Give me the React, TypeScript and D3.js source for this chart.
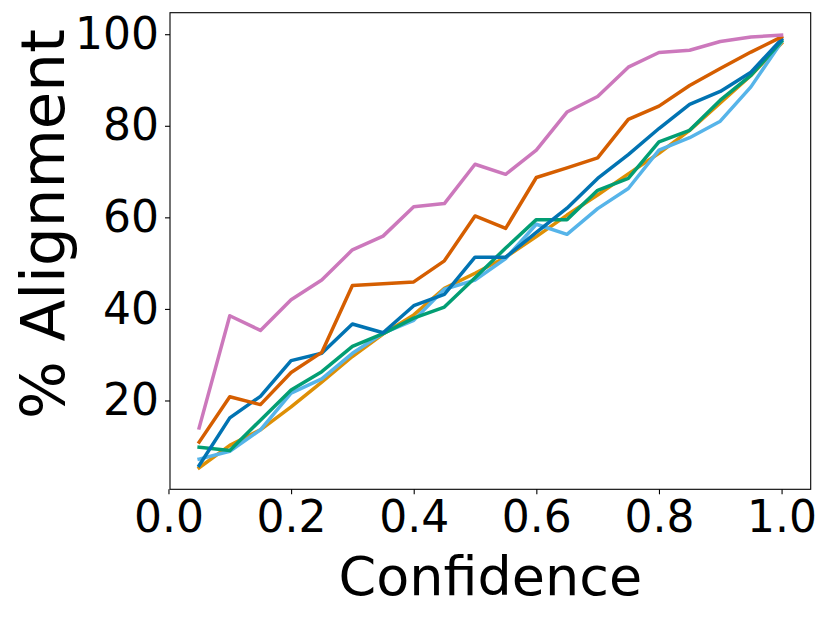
import React, { useEffect, useRef } from "react";
import * as d3 from "d3";

const confidence = [0.05, 0.1, 0.15, 0.2, 0.25, 0.3, 0.35, 0.4, 0.45, 0.5, 0.55, 0.6, 0.65, 0.7, 0.75, 0.8, 0.85, 0.9, 0.95, 1.0];

const orangeVals = [5.3, 10.2, 13.6, 18.6, 24.0, 29.6, 34.5, 38.7, 44.5, 47.8, 51.3, 55.8, 60.5, 64.9, 69.5, 74.0, 79.0, 85.0, 91.0, 98.0];
const lightBlueVals = [7.2, 8.9, 13.6, 21.6, 24.7, 30.3, 34.7, 37.5, 44.3, 46.3, 51.0, 58.5, 56.3, 61.9, 66.3, 74.7, 77.4, 81.0, 88.5, 98.3];
const greenVals = [9.8, 9.1, 15.7, 22.3, 26.3, 31.8, 34.6, 38.0, 40.4, 46.8, 53.3, 59.5, 59.5, 65.9, 68.5, 76.5, 79.0, 85.6, 91.0, 98.5];
const blueVals = [5.8, 16.2, 20.9, 28.7, 30.3, 36.7, 34.8, 40.7, 43.2, 51.3, 51.3, 56.7, 62.0, 68.5, 73.7, 79.4, 84.7, 87.5, 91.7, 98.9];
const vermillionVals = [10.9, 20.8, 19.1, 26.1, 30.5, 45.1, 45.5, 45.9, 50.5, 60.3, 57.6, 68.7, 70.8, 73.0, 81.4, 84.3, 88.8, 92.5, 96.1, 99.4];
const pinkVals = [14.0, 38.5, 35.3, 42.0, 46.3, 52.9, 55.9, 62.3, 63.0, 71.6, 69.4, 74.7, 83.0, 86.4, 92.8, 96.0, 96.5, 98.4, 99.4, 99.8];

// drawn in this order, last one on top
const seriesList = [
  { values: orangeVals, color: "#de8f05" },
  { values: lightBlueVals, color: "#56b4e9" },
  { values: greenVals, color: "#029e73" },
  { values: blueVals, color: "#0173b2" },
  { values: vermillionVals, color: "#d55e00" },
  { values: pinkVals, color: "#cc78bc" },
];

const xTicks = [0, 0.2, 0.4, 0.6, 0.8, 1.0];
const yTicks = [20, 40, 60, 80, 100];

const App = () => {
  const svgRef = useRef<SVGSVGElement>(null);

  useEffect(() => {
    drawChart();
  }, []);

  const drawChart = () => {
    const width = 830;
    const height = 618;
    const plot = { left: 170, right: 810.7, top: 12.7, bottom: 489.3 };
    const font = "DejaVu Sans, sans-serif";

    const svg = d3.select(svgRef.current).attr("width", width).attr("height", height);
    svg.selectAll("*").remove();

    const xScale = d3.scaleLinear().domain([0.0025, 1.0475]).range([plot.left, plot.right]);
    const yScale = d3.scaleLinear().domain([0.6, 104.7]).range([plot.bottom, plot.top]);

    svg.append("rect").attr("width", width).attr("height", height).attr("fill", "#ffffff");

    const line = d3
      .line<number>()
      .x((d, i) => xScale(confidence[i]))
      .y((d) => yScale(d));

    seriesList.forEach((s) => {
      svg
        .append("path")
        .datum(s.values)
        .attr("d", line)
        .attr("fill", "none")
        .attr("stroke", s.color)
        .attr("stroke-width", 3.5)
        .attr("stroke-linejoin", "round")
        .attr("stroke-linecap", "square");
    });

    // axes frame
    svg
      .append("rect")
      .attr("x", plot.left)
      .attr("y", plot.top)
      .attr("width", plot.right - plot.left)
      .attr("height", plot.bottom - plot.top)
      .attr("fill", "none")
      .attr("stroke", "#000")
      .attr("stroke-width", 1.1);

    const xAxis = svg
      .append("g")
      .attr("transform", `translate(0,${plot.bottom})`)
      .call(
        d3
          .axisBottom(xScale)
          .tickValues(xTicks)
          .tickFormat(d3.format(".1f"))
          .tickSizeInner(5)
          .tickSizeOuter(0)
          .tickPadding(6)
      );
    xAxis.select(".domain").remove();
    xAxis.selectAll("line").attr("stroke-width", 1.1);
    xAxis.selectAll("text").style("font-family", font).style("font-size", "44px").attr("fill", "#000");

    const yAxis = svg
      .append("g")
      .attr("transform", `translate(${plot.left},0)`)
      .call(d3.axisLeft(yScale).tickValues(yTicks).tickSizeInner(5).tickSizeOuter(0).tickPadding(6));
    yAxis.select(".domain").remove();
    yAxis.selectAll("line").attr("stroke-width", 1.1);
    yAxis.selectAll("text").style("font-family", font).style("font-size", "44px").attr("fill", "#000");

    // X-axis label
    svg
      .append("text")
      .attr("x", (plot.left + plot.right) / 2)
      .attr("y", 595)
      .attr("text-anchor", "middle")
      .style("font-family", font)
      .style("font-size", "54px")
      .text("Confidence");

    // Y-axis label
    svg
      .append("text")
      .attr("transform", "rotate(-90)")
      .attr("x", -224)
      .attr("y", 64)
      .attr("text-anchor", "middle")
      .style("font-family", font)
      .style("font-size", "61px")
      .text("% Alignment");
  };

  return <svg ref={svgRef} style={{ position: "absolute", left: 0, top: 0 }}></svg>;
};

export default App;
